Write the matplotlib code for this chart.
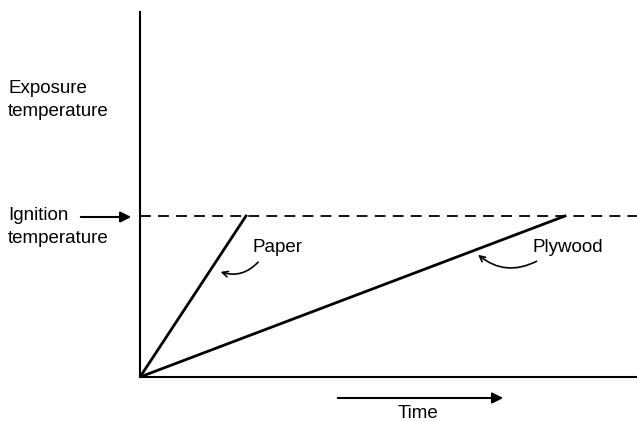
import matplotlib.pyplot as plt

plt.rcParams['font.family'] = ['Liberation Sans', 'DejaVu Sans']

# data (arbitrary units)
ignition_temp = 161
paper_time = [0, 106]
paper_temp = [0, ignition_temp]
plywood_time = [0, 425]
plywood_temp = [0, ignition_temp]

fig = plt.figure(figsize=(6.37, 4.21), dpi=100)
ax = fig.add_axes([140/637, 44/421, 497/637, 365/421])
ax.set_xlim(0, 497)
ax.set_ylim(0, 365)
ax.spines['top'].set_visible(False)
ax.spines['right'].set_visible(False)
ax.spines['left'].set_linewidth(1.5)
ax.spines['bottom'].set_linewidth(1.5)
ax.set_xticks([])
ax.set_yticks([])

ax.axhline(ignition_temp, color="black", lw=1.3, ls=(0, (6, 4)))
ax.plot(paper_time, paper_temp, color="black", lw=2)
ax.plot(plywood_time, plywood_temp, color="black", lw=2)

fs = 13.5
ax.text(-132, 277, "Exposure\ntemperature", fontsize=fs, va="center", ha="left",
        linespacing=1.4, clip_on=False)
ax.text(-132, 150, "Ignition\ntemperature", fontsize=fs, va="center", ha="left",
        linespacing=1.4, clip_on=False)
ax.annotate("", xy=(-6, 160), xytext=(-62, 160),
            arrowprops=dict(arrowstyle="-|>", color="black", lw=1.5, mutation_scale=16),
            annotation_clip=False)

ax.text(112, 129, "Paper", fontsize=fs, va="center", ha="left")
ax.annotate("", xy=(78, 106), xytext=(120, 117),
            arrowprops=dict(arrowstyle="->", color="black", lw=1.2,
                            connectionstyle="arc3,rad=-0.35"))
ax.text(393, 130, "Plywood", fontsize=fs, va="center", ha="left")
ax.annotate("", xy=(336, 124), xytext=(399, 117),
            arrowprops=dict(arrowstyle="->", color="black", lw=1.2,
                            connectionstyle="arc3,rad=-0.35"))

ax.annotate("", xy=(366, -21), xytext=(195, -21),
            arrowprops=dict(arrowstyle="-|>", color="black", lw=1.5, mutation_scale=16),
            annotation_clip=False)
ax.text(278, -36, "Time", fontsize=fs, va="center", ha="center", clip_on=False)

fig.savefig("out.png", dpi=100)
